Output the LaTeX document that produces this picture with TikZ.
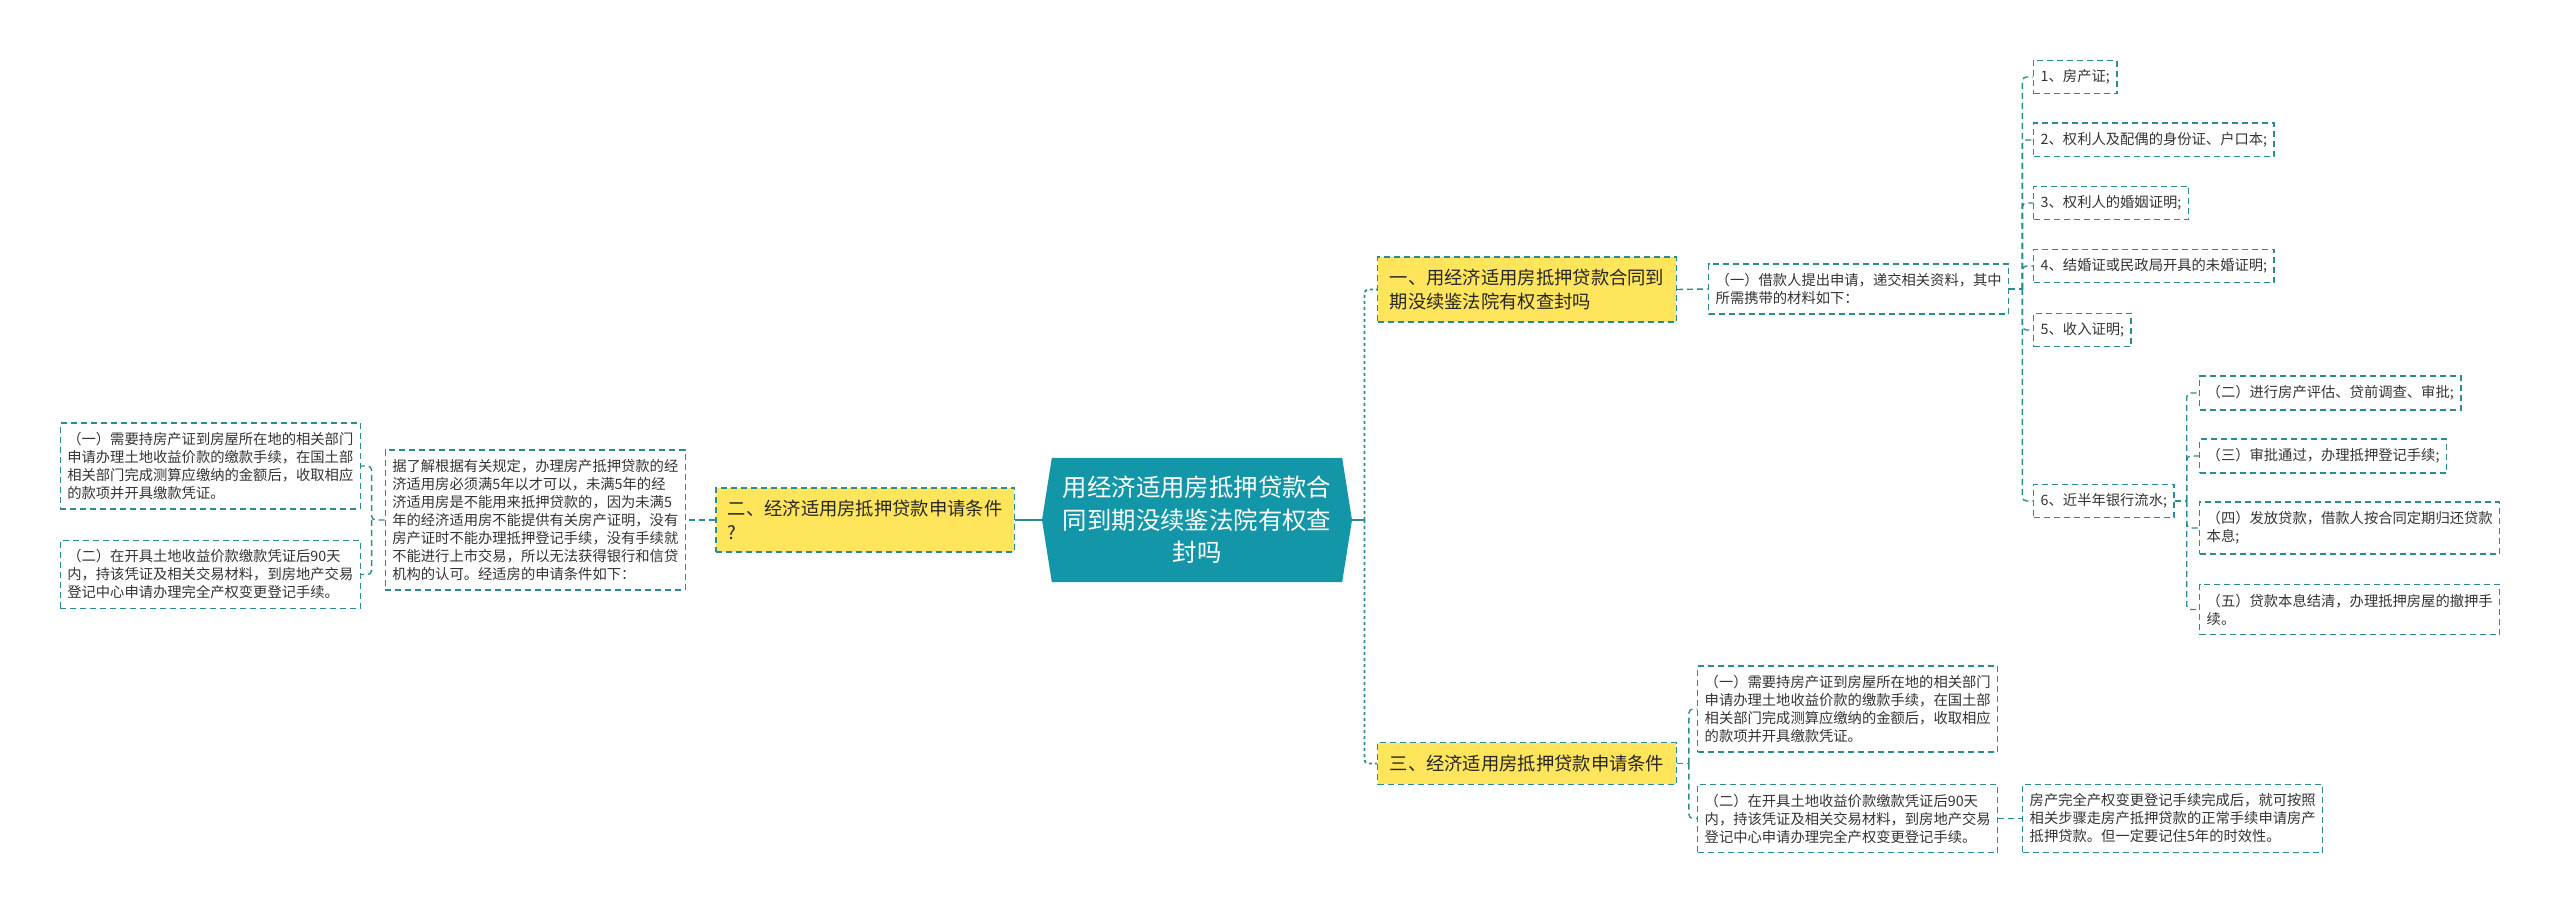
\documentclass[tikz,border=0pt]{standalone}
\usepackage{fontspec}
\setmainfont{Noto Sans CJK SC}
\usetikzlibrary{shapes.symbols}
\definecolor{tealline}{RGB}{40,140,146}
\definecolor{rootfill}{RGB}{18,150,168}
\definecolor{yellowfill}{RGB}{255,229,92}
\definecolor{inkgray}{RGB}{51,51,51}
\tikzset{
  leaf/.style={draw=tealline,dash pattern=on 3pt off 2pt,line width=0.7pt,align=left,text=inkgray,font=\fontsize{7.15}{9}\selectfont,inner xsep=3.5pt,inner ysep=4.7pt},
  topic/.style={leaf,fill=yellowfill,text=black!85,font=\fontsize{9.15}{11.7}\selectfont,inner xsep=6pt,inner ysep=6.2pt},
  link/.style={draw=tealline,dash pattern=on 3pt off 2pt,line width=0.7pt,rounded corners=2pt},
  trunk/.style={link,line width=0.9pt,dash pattern=on 1.6pt off 1.4pt},
}
\begin{document}
\begin{tikzpicture}[x=0.5pt,y=-0.5pt]
        \useasboundingbox (0,0) rectangle (2560,914);
        %% root
        \node[signal,signal to=west and east,signal pointer angle=162,fill=rootfill,text=white,font=\fontsize{12.2}{16.25}\selectfont,align=center,minimum width=155pt,minimum height=62pt,inner xsep=2pt] (root) at (1197,520) {用经济适用房抵押贷款合\\同到期没续鉴法院有权查\\封吗};
        %% left branch
        \node[topic,anchor=east] (cond) at (1015,520) {二、经济适用房抵押贷款申请条件\\?};
        \node[leaf,anchor=east] (rule) at (686,520) {据了解根据有关规定，办理房产抵押贷款的经\\济适用房必须满5年以才可以，未满5年的经\\济适用房是不能用来抵押贷款的，因为未满5\\年的经济适用房不能提供有关房产证明，没有\\房产证时不能办理抵押登记手续，没有手续就\\不能进行上市交易，所以无法获得银行和信贷\\机构的认可。经适房的申请条件如下：};
        \node[leaf,anchor=east] (payL) at (361,466) {（一）需要持房产证到房屋所在地的相关部门\\申请办理土地收益价款的缴款手续，在国土部\\相关部门完成测算应缴纳的金额后，收取相应\\的款项并开具缴款凭证。};
        \node[leaf,anchor=east] (regL) at (361,574.5) {（二）在开具土地收益价款缴款凭证后90天\\内，持该凭证及相关交易材料，到房地产交易\\登记中心申请办理完全产权变更登记手续。};
        %% right branch, first topic
        \node[topic,anchor=west] (seize) at (1377,289.5) {一、用经济适用房抵押贷款合同到\\期没续鉴法院有权查封吗};
        \node[leaf,anchor=west] (apply) at (1708,289) {（一）借款人提出申请，递交相关资料，其中\\所需携带的材料如下：};
        \node[leaf,anchor=west] (doc1) at (2033,77) {1、房产证;};
        \node[leaf,anchor=west] (doc2) at (2033,140) {2、权利人及配偶的身份证、户口本;};
        \node[leaf,anchor=west] (doc3) at (2033,203) {3、权利人的婚姻证明;};
        \node[leaf,anchor=west] (doc4) at (2033,266) {4、结婚证或民政局开具的未婚证明;};
        \node[leaf,anchor=west] (doc5) at (2033,330) {5、收入证明;};
        \node[leaf,anchor=west] (doc6) at (2033,501) {6、近半年银行流水;};
        \node[leaf,anchor=west] (stepB) at (2199,393) {（二）进行房产评估、贷前调查、审批;};
        \node[leaf,anchor=west] (stepC) at (2199,456) {（三）审批通过，办理抵押登记手续;};
        \node[leaf,anchor=west] (stepD) at (2199,528) {（四）发放贷款，借款人按合同定期归还贷款\\本息;};
        \node[leaf,anchor=west] (stepE) at (2199,609.5) {（五）贷款本息结清，办理抵押房屋的撤押手\\续。};
        %% right branch, third topic
        \node[topic,anchor=west] (terms) at (1377,763.5) {三、经济适用房抵押贷款申请条件};
        \node[leaf,anchor=west] (payR) at (1697,709) {（一）需要持房产证到房屋所在地的相关部门\\申请办理土地收益价款的缴款手续，在国土部\\相关部门完成测算应缴纳的金额后，收取相应\\的款项并开具缴款凭证。};
        \node[leaf,anchor=west] (regR) at (1697,818.5) {（二）在开具土地收益价款缴款凭证后90天\\内，持该凭证及相关交易材料，到房地产交易\\登记中心申请办理完全产权变更登记手续。};
        \node[leaf,anchor=west] (loan) at (2022,818.5) {房产完全产权变更登记手续完成后，就可按照\\相关步骤走房产抵押贷款的正常手续申请房产\\抵押贷款。但一定要记住5年的时效性。};
        %% links
        \draw[tealline,line width=1pt] (root.west) -- (cond.east);
        \draw[link] (cond.west) -- (rule.east);
        \draw[link] (rule.west) -- ++(-13,0) coordinate (ruleJ) |- (payL.east);
        \draw[link] (ruleJ) |- (regL.east);
        \draw[tealline,line width=1pt] (root.east) -- ++(12,0) coordinate (rootJ);
        \draw[trunk] (rootJ) |- (seize.west);
        \draw[trunk] (rootJ) |- (terms.west);
        \draw[link] (seize.east) -- (apply.west);
        \draw[link] (apply.east) -- ++(13,0) coordinate (applyJ);
        \foreach \d in {doc1,doc2,doc3,doc4,doc5,doc6}
            \draw[link] (applyJ) |- (\d.west);
        \draw[link] (doc6.east) -- ++(12,0) coordinate (docJ);
        \foreach \s in {stepB,stepC,stepD,stepE}
            \draw[link] (docJ) |- (\s.west);
        \draw[link] (terms.east) -- ++(12,0) coordinate (termsJ);
        \draw[link] (termsJ) |- (payR.west);
        \draw[link] (termsJ) |- (regR.west);
        \draw[link] (regR.east) -- (loan.west);
    \end{tikzpicture}
\end{document}
